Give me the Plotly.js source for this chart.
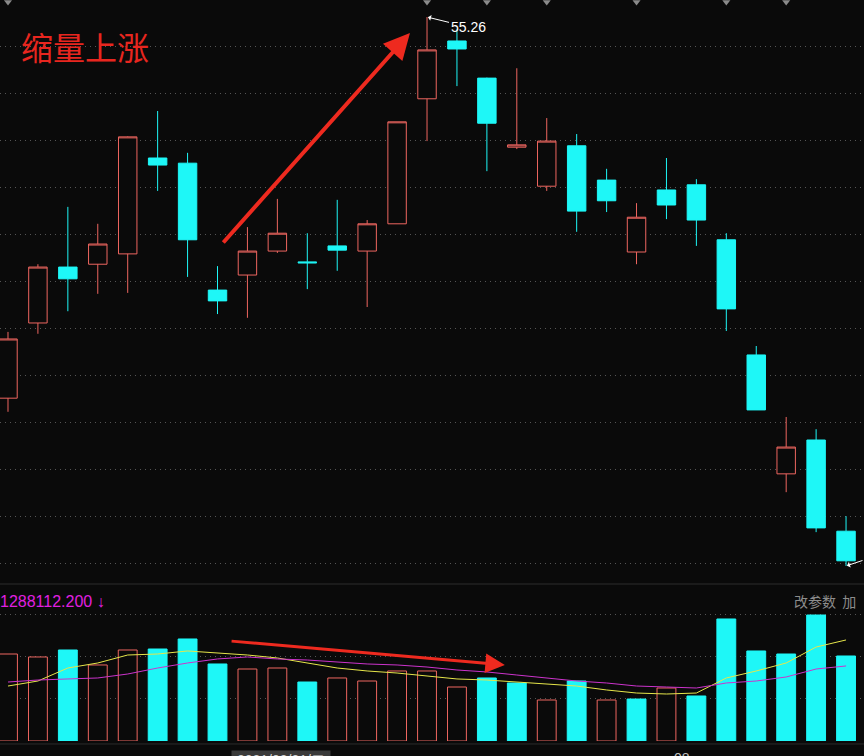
<!DOCTYPE html>
<html><head><meta charset="utf-8">
<script src="https://cdn.plot.ly/plotly-3.0.1.min.js"></script>
<style>html,body{margin:0;padding:0;background:#0a0a0a;overflow:hidden}#chart{width:864px;height:756px;}</style>
</head><body><div id="chart"></div>
<script>
const days  = [0,1,2,3,4,5,6,7,8,9,10,11,12,13,14,15,16,17,18,19,20,21,22,23,24,25,26,27,28];
const open  = [47.15,48.75,49.94,50.00,50.22,52.26,52.15,49.45,49.77,50.28,50.05,50.39,50.28,50.86,53.52,54.75,53.96,52.49,51.66,52.52,51.79,50.26,51.58,51.69,50.52,48.07,45.54,46.26,44.32];
const high  = [48.56,50.00,51.22,50.86,52.72,53.26,52.37,49.96,50.79,51.39,50.66,51.37,50.94,53.03,55.26,55.00,53.97,54.17,53.11,52.77,52.03,51.30,52.26,51.81,50.66,48.26,46.75,46.49,44.64];
const low   = [46.86,48.52,49.00,49.37,49.39,51.56,49.73,48.94,48.86,50.24,49.47,49.86,49.09,50.86,52.62,53.79,51.98,52.45,51.56,50.69,51.11,50.00,50.96,50.39,48.58,46.90,45.15,44.30,43.58];
const close = [48.41,49.94,49.69,50.43,52.71,52.11,50.52,49.22,50.28,50.66,50.03,50.30,50.86,53.03,54.56,54.58,53.00,52.54,52.62,51.13,51.35,51.00,51.26,50.94,49.05,46.90,46.11,44.39,43.69];
const volume = [1318000,1273000,1379000,1152000,1379000,1394000,1546000,1167000,1091000,1106000,894000,955000,909000,1061000,1061000,818000,955000,879000,621000,909000,621000,636000,803000,682000,1849000,1364000,1318000,1909000,1288112];
const ma5  = [833000,909000,1106000,1182000,1303000,1318000,1364000,1334000,1303000,1258000,1182000,1106000,1061000,1030000,985000,940000,924000,894000,864000,833000,773000,727000,712000,727000,955000,1061000,1182000,1424000,1531000];
const ma10 = [894000,924000,940000,955000,1015000,1106000,1182000,1243000,1273000,1243000,1227000,1197000,1167000,1152000,1121000,1076000,1046000,1000000,955000,909000,879000,833000,818000,803000,879000,909000,970000,1091000,1137000];
const topMarks = [0,14,16,18,21,24,26];
const title = '缩量上涨';
const highLabel = '55.26';
const volLabel = '1288112.200 ↓';
const btnLabel = '改参数  加';
const dateLabel = ' 2021/08/31/二 ';
const dateLabel2 = '08';

const RED = '#ee6660', CYAN = '#1ef7f7', BG = '#0a0a0a';
const upVol = volume.map((v,i)=> i===0 ? close[i]>=open[i] : close[i]>=close[i-1]);
const lastIdx = days[days.length-1];
const lastLow = low[low.length-1];

const traces = [
  {type:'candlestick', x:days, open:open, high:high, low:low, close:close, xaxis:'x', yaxis:'y',
   increasing:{line:{color:RED,width:1}, fillcolor:BG},
   decreasing:{line:{color:CYAN,width:1}, fillcolor:CYAN},
   whiskerwidth:0, hoverinfo:'skip'},
  {type:'scatter', mode:'markers', x:topMarks, y:topMarks.map(()=>55.58), xaxis:'x', yaxis:'y', cliponaxis:false,
   marker:{symbol:'triangle-down', size:7, color:'#8a8a8a'}, hoverinfo:'skip'},
  {type:'bar', x:days, y:volume, xaxis:'x', yaxis:'y2', width:0.63,
   marker:{color:upVol.map(u=>u?BG:CYAN), line:{color:upVol.map(u=>u?RED:CYAN), width:1}}, hoverinfo:'skip'},
  {type:'scatter', mode:'lines', x:days, y:ma5, xaxis:'x', yaxis:'y2', line:{color:'#e6e64a', width:1}, hoverinfo:'skip'},
  {type:'scatter', mode:'lines', x:days, y:ma10, xaxis:'x', yaxis:'y2', line:{color:'#cc33cc', width:1}, hoverinfo:'skip'}
];

const grid = {showgrid:true, gridcolor:'#555555', griddash:'1px,4px', gridwidth:1, zeroline:false, showticklabels:false, showline:false, ticks:''};
const layout = {
  width:864, height:756, margin:{l:0,r:0,t:0,b:0},
  paper_bgcolor:BG, plot_bgcolor:BG, showlegend:false,
  boxgap:0.12, boxgroupgap:0.3, bargap:0.3,
  xaxis:{range:[-0.267,28.6], showgrid:false, zeroline:false, showticklabels:false, showline:false, ticks:'', rangeslider:{visible:false}, fixedrange:true},
  yaxis:Object.assign({domain:[0.2288,1], range:[43.217,55.622], tick0:54.643, dtick:1, fixedrange:true}, grid),
  yaxis2:Object.assign({domain:[0.01984,0.2196], range:[0,2288254], tick0:0, dtick:636468, fixedrange:true}, grid),
  shapes:[
    {type:'line', xref:'paper', yref:'paper', x0:0, x1:1, y0:0.2275, y1:0.2275, line:{color:'#2c2c2c', width:1}},
    {type:'line', xref:'paper', yref:'paper', x0:0, x1:1, y0:0.0159, y1:0.0159, line:{color:'#2c2c2c', width:1}}
  ],
  annotations:[
    {xref:'paper', yref:'paper', x:19/864, y:1-46/756, xanchor:'left', yanchor:'middle', showarrow:false,
     text:title, font:{family:'Noto Sans CJK SC', size:32, color:'#e8261f'}},
    {x:14, y:55.26, xref:'x', yref:'y', text:highLabel, showarrow:true, ax:41, ay:10, arrowcolor:'#ffffff', arrowhead:1, arrowsize:1, arrowwidth:1, standoff:1,
     font:{family:'Liberation Sans', size:14, color:'#ffffff'}},
    {x:lastIdx, y:lastLow, xref:'x', yref:'y', text:'', showarrow:true, ax:22, ay:-6, arrowcolor:'#ffffff', arrowhead:1, arrowsize:1, arrowwidth:1, standoff:1},
    {x:13.43, y:54.92, xref:'x', yref:'y', axref:'x', ayref:'y', ax:7.15, ay:50.43, text:'', showarrow:true,
     arrowcolor:'#ee2a1f', arrowwidth:4, arrowhead:2, arrowsize:1.3},
    {x:16.6, y:1151700, xref:'x', yref:'y2', axref:'x', ayref:'y2', ax:7.42, ay:1515400, text:'', showarrow:true,
     arrowcolor:'#ee2a1f', arrowwidth:3, arrowhead:2, arrowsize:1.3},
    {xref:'paper', yref:'paper', x:0, y:(756-601)/756, xanchor:'left', yanchor:'middle', xshift:-2, showarrow:false,
     text:volLabel, font:{family:'Liberation Sans', size:16, color:'#e020e0'}},
    {xref:'paper', yref:'paper', x:792/864, y:(756-601)/756, xanchor:'left', yanchor:'middle', showarrow:false,
     text:btnLabel, font:{family:'Noto Sans CJK SC', size:14, color:'#8c8c8c'}},
    {xref:'paper', yref:'paper', x:231/864, y:(756-760)/756, xanchor:'left', yanchor:'middle', showarrow:false,
     text:dateLabel, bgcolor:'#3a3a3a', font:{family:'Liberation Sans', size:14, color:'#d0d0d0'}},
    {xref:'paper', yref:'paper', x:672/864, y:(756-758)/756, xanchor:'left', yanchor:'middle', showarrow:false,
     text:dateLabel2, font:{family:'Liberation Sans', size:14, color:'#c0c0c0'}}
  ]
};
Plotly.newPlot('chart', traces, layout, {displayModeBar:false, staticPlot:true});
</script></body></html>
